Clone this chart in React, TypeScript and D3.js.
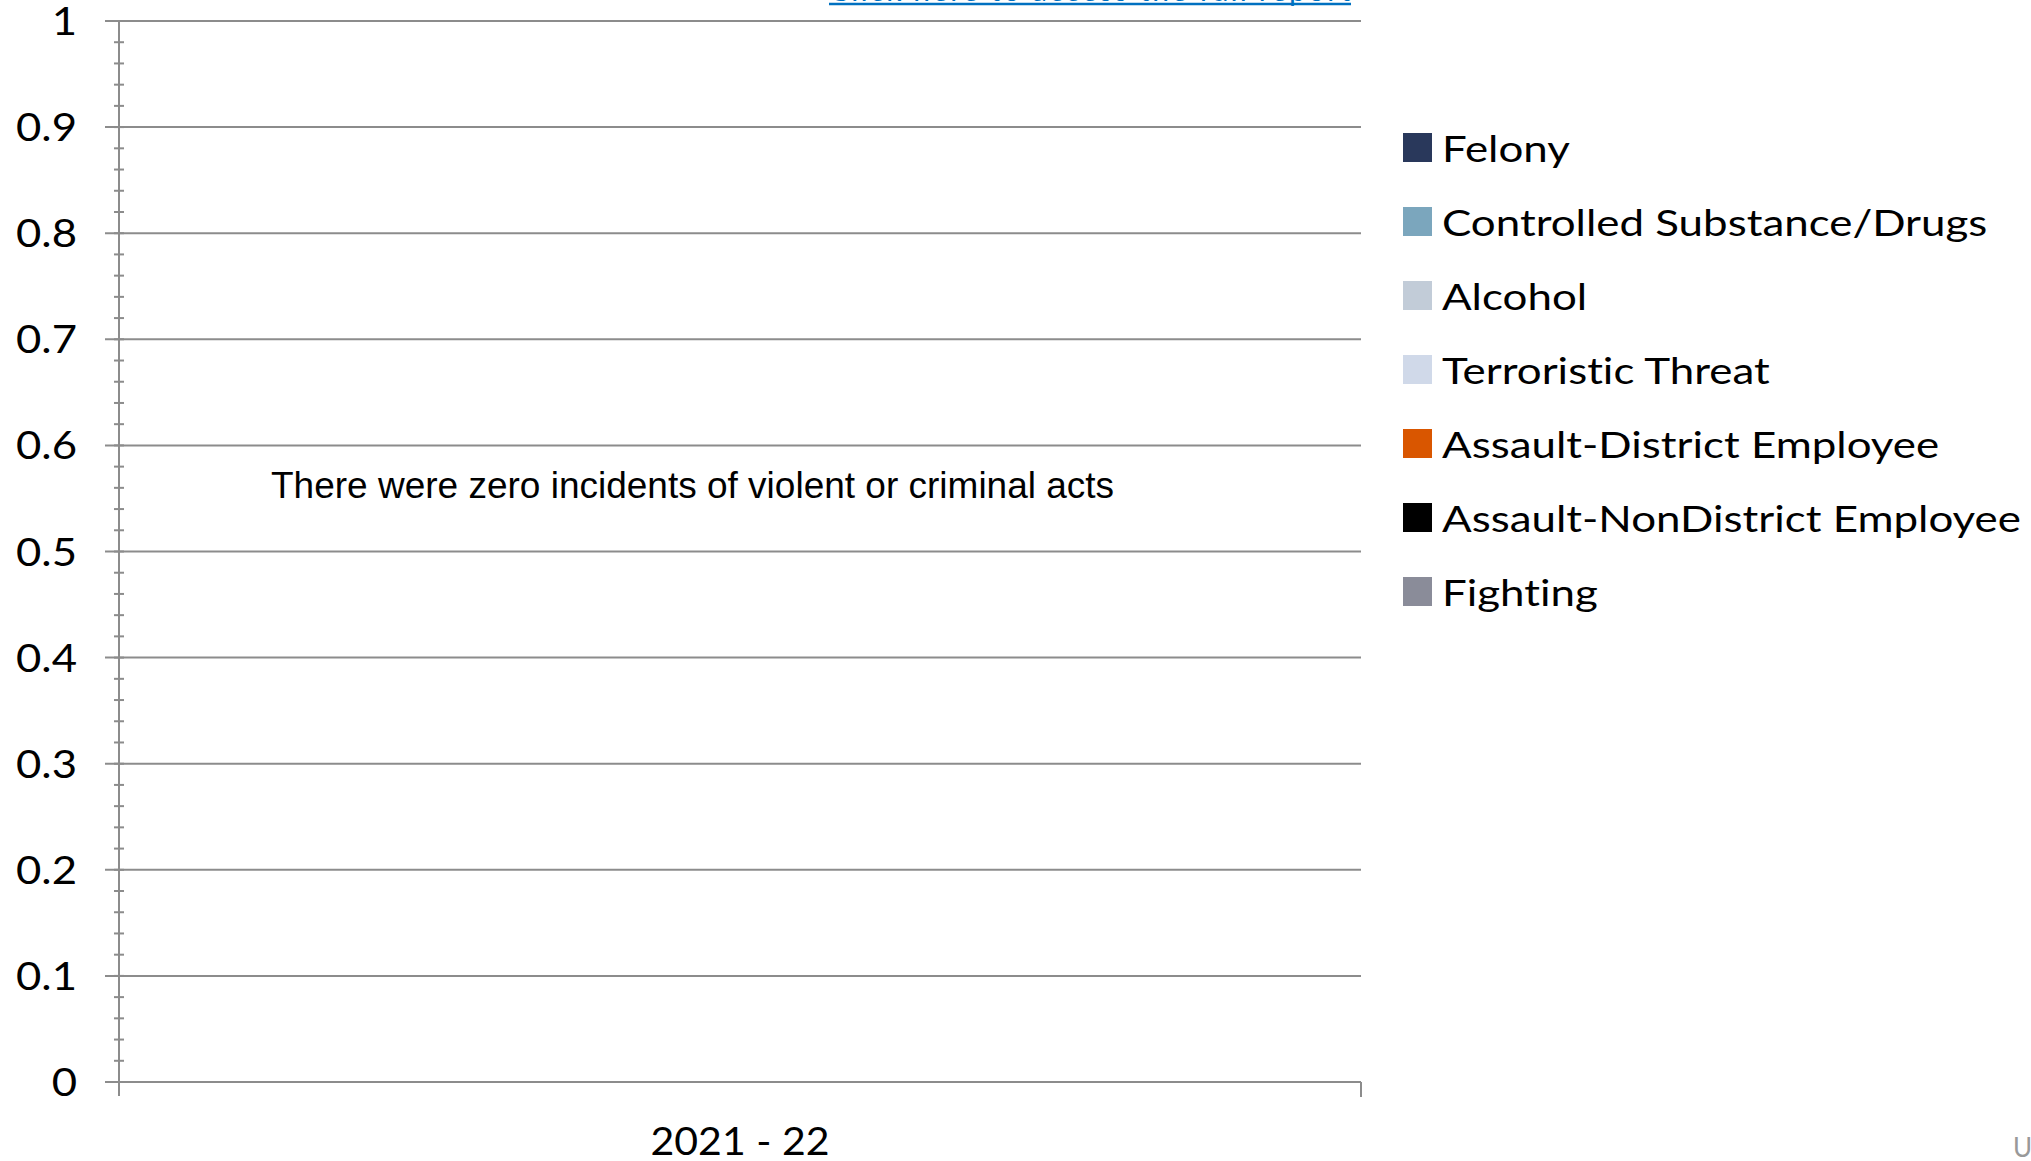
import * as d3 from 'd3';

const W = 2031;
const H = 1161;

// categories and series
const years = ['2021 - 22'];
const seriesNames = [
  'Felony',
  'Controlled Substance/Drugs',
  'Alcohol',
  'Terroristic Threat',
  'Assault-District Employee',
  'Assault-NonDistrict Employee',
  'Fighting',
];
const seriesColors = ['#29385b', '#7ba6bd', '#c2ccd8', '#d0d9e9', '#d95600', '#000000', '#8a8c99'];
// every series is zero for the only year
const seriesValues = [[0], [0], [0], [0], [0], [0], [0]];
const yTicks = [0, 0.1, 0.2, 0.3, 0.4, 0.5, 0.6, 0.7, 0.8, 0.9, 1];
const note = 'There were zero incidents of violent or criminal acts';
const linkText = 'Click here to access the full report';

const font = 'Lato, sans-serif';
const noLig = { fontVariantLigatures: 'none' } as const;

export default function App() {
  const left = 119;
  const right = 1361;
  const top = 21;
  const bottom = 1082;

  const y = d3.scaleLinear().domain([0, 1]).range([bottom, top]);
  const x = d3.scaleBand().domain(years).range([left, right]).padding(0);
  const inner = d3.scaleBand().domain(seriesNames).range([0, x.bandwidth()]).paddingInner(0.1).paddingOuter(1);
  const minor = d3.range(0, 1.0001, 0.02);
  const grid = '#8c8c8c';

  return (
    <svg width={W} height={H} style={{ position: 'absolute', left: 0, top: 0, background: '#fff' }}>
      {/* link title, mostly cut off at the top */}
      <text x={829} y={1} fontFamily={font} fontSize={30} fill="#0070c0" textLength={522} lengthAdjust="spacing" style={noLig}>
        {linkText}
      </text>
      <line x1={829} x2={1351} y1={4} y2={4} stroke="#0070c0" strokeWidth={2.5} />

      {/* gridlines */}
      {yTicks.map(t => (
        <line key={'g' + t} x1={left - 14} x2={right} y1={y(t)} y2={y(t)} stroke={grid} strokeWidth={2} />
      ))}
      {/* minor ticks */}
      {minor.map(t => (
        <line key={'m' + t} x1={left - 5} x2={left + 5} y1={y(t)} y2={y(t)} stroke={grid} strokeWidth={2} />
      ))}
      {/* y axis line */}
      <line x1={left} x2={left} y1={top} y2={bottom + 14} stroke={grid} strokeWidth={2} />
      {/* category boundary ticks */}
      {years.map(c => (
        <g key={'t' + c}>
          <line x1={x(c)!} x2={x(c)!} y1={bottom} y2={bottom + 14} stroke={grid} strokeWidth={2} />
          <line x1={x(c)! + x.bandwidth()} x2={x(c)! + x.bandwidth()} y1={bottom} y2={bottom + 15} stroke={grid} strokeWidth={2} />
        </g>
      ))}

      {/* bars (all zero height) */}
      {years.map((c, ci) =>
        seriesNames.map((s, si) => (
          <rect
            key={c + s}
            x={x(c)! + inner(s)!}
            y={y(seriesValues[si][ci])}
            width={inner.bandwidth()}
            height={bottom - y(seriesValues[si][ci])}
            fill={seriesColors[si]}
          />
        ))
      )}

      {/* y tick labels */}
      {yTicks.map(t => (
        <text
          key={'l' + t}
          transform={`translate(77, ${y(t) + 14}) scale(1.15, 1)`}
          textAnchor="end"
          fontFamily={font}
          fontSize={38}
          fill="#000"
        >
          {t === 0 || t === 1 ? String(t) : t.toFixed(1)}
        </text>
      ))}

      {/* x labels */}
      {years.map(c => (
        <text
          key={'x' + c}
          transform={`translate(${x(c)! + x.bandwidth() / 2}, 1155) scale(1.08, 1)`}
          textAnchor="middle"
          fontFamily={font}
          fontSize={38}
          fill="#000"
        >
          {c}
        </text>
      ))}

      {/* note */}
      <text x={271} y={498} fontFamily="'Liberation Sans', Arial, sans-serif" fontSize={37} fill="#000">
        {note}
      </text>

      {/* legend */}
      {seriesNames.map((s, i) => (
        <g key={'lg' + s} transform={`translate(1403, ${133 + i * 74})`}>
          <rect x={0} y={0} width={29} height={29} fill={seriesColors[i]} />
          <text transform="translate(39, 29) scale(1.186, 1)" fontFamily={font} fontSize={37} fill="#000" style={noLig}>
            {s}
          </text>
        </g>
      ))}

      <text x={2013} y={1157} fontFamily={font} fontSize={26} fill="#999">
        U
      </text>
    </svg>
  );
}
